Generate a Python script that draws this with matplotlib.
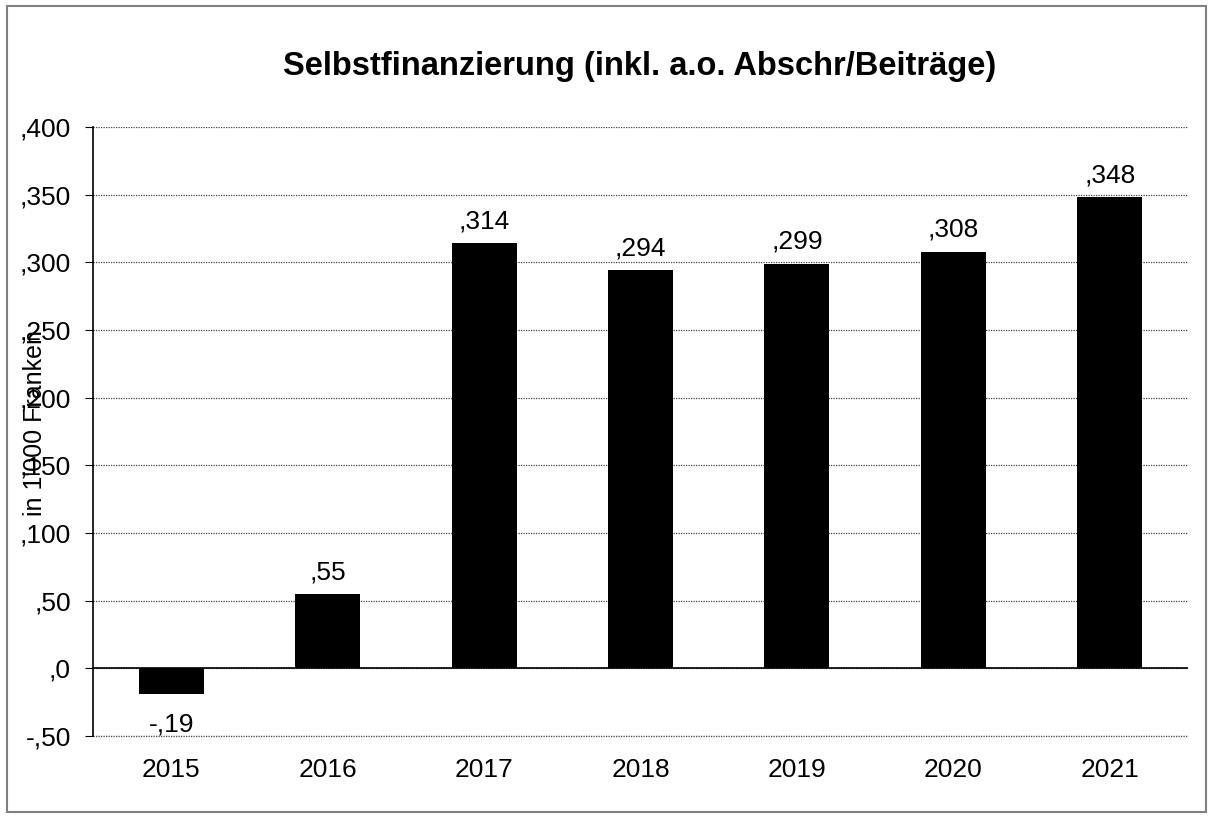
import matplotlib.pyplot as plt
from matplotlib.patches import Rectangle

plt.rcParams['font.family'] = ['Liberation Sans', 'DejaVu Sans']

years = ['2015', '2016', '2017', '2018', '2019', '2020', '2021']
values = [-19, 55, 314, 294, 299, 308, 348]
labels = ['-,19', ',55', ',314', ',294', ',299', ',308', ',348']
yticks = [-50, 0, 50, 100, 150, 200, 250, 300, 350, 400]
ytick_labels = ['-,50', ',0', ',50', ',100', ',150', ',200', ',250', ',300', ',350', ',400']

fig = plt.figure(figsize=(12.13, 8.19), dpi=100)
ax = fig.add_axes([93/1213, 1 - 736/819, (1188 - 93)/1213, (736 - 127)/819])

x = range(len(years))
ax.bar(x, values, width=0.415, color='black', zorder=3)

for i, (v, lab) in enumerate(zip(values, labels)):
    if v >= 0:
        ax.annotate(lab, (i, v), xytext=(0, 7), textcoords='offset points',
                    ha='center', va='bottom', fontsize=19)
    else:
        ax.annotate(lab, (i, v), xytext=(0, -13), textcoords='offset points',
                    ha='center', va='top', fontsize=19)

ax.set_xlim(-0.5, len(years) - 0.5)
ax.set_ylim(-50, 400)
ax.set_yticks(yticks)
ax.set_yticklabels(ytick_labels, fontsize=19)
ax.set_xticks(list(x))
ax.set_xticklabels(years, fontsize=19)
ax.tick_params(axis='x', length=0, pad=16)
ax.tick_params(axis='y', length=6, direction='out', pad=10)

ax.yaxis.grid(True, linestyle=(0, (1, 1)), color='#444444', lw=0.9, zorder=0)
ax.axhline(-50, linestyle=(0, (1, 1)), color='#444444', lw=0.9, clip_on=False, zorder=1)
ax.axhline(0, color='black', lw=1.2, zorder=4)
for s in ['top', 'right', 'bottom']:
    ax.spines[s].set_visible(False)
ax.spines['left'].set_linewidth(1.2)

fig.text(640/1213, 1 - 67/819, 'Selbstfinanzierung (inkl. a.o. Abschr/Beiträge)',
         ha='center', va='center', fontsize=23.5, fontweight='bold')
fig.text(35/1213, 1 - 423/819, "in 1'000 Franken", rotation=90,
         ha='center', va='center', fontsize=18)

fig.patches.append(Rectangle((7/1213, 7/819), 1199/1213, 806/819, transform=fig.transFigure,
                             fill=False, edgecolor='#808080', lw=1.5))

fig.savefig('out.png', dpi=100)
